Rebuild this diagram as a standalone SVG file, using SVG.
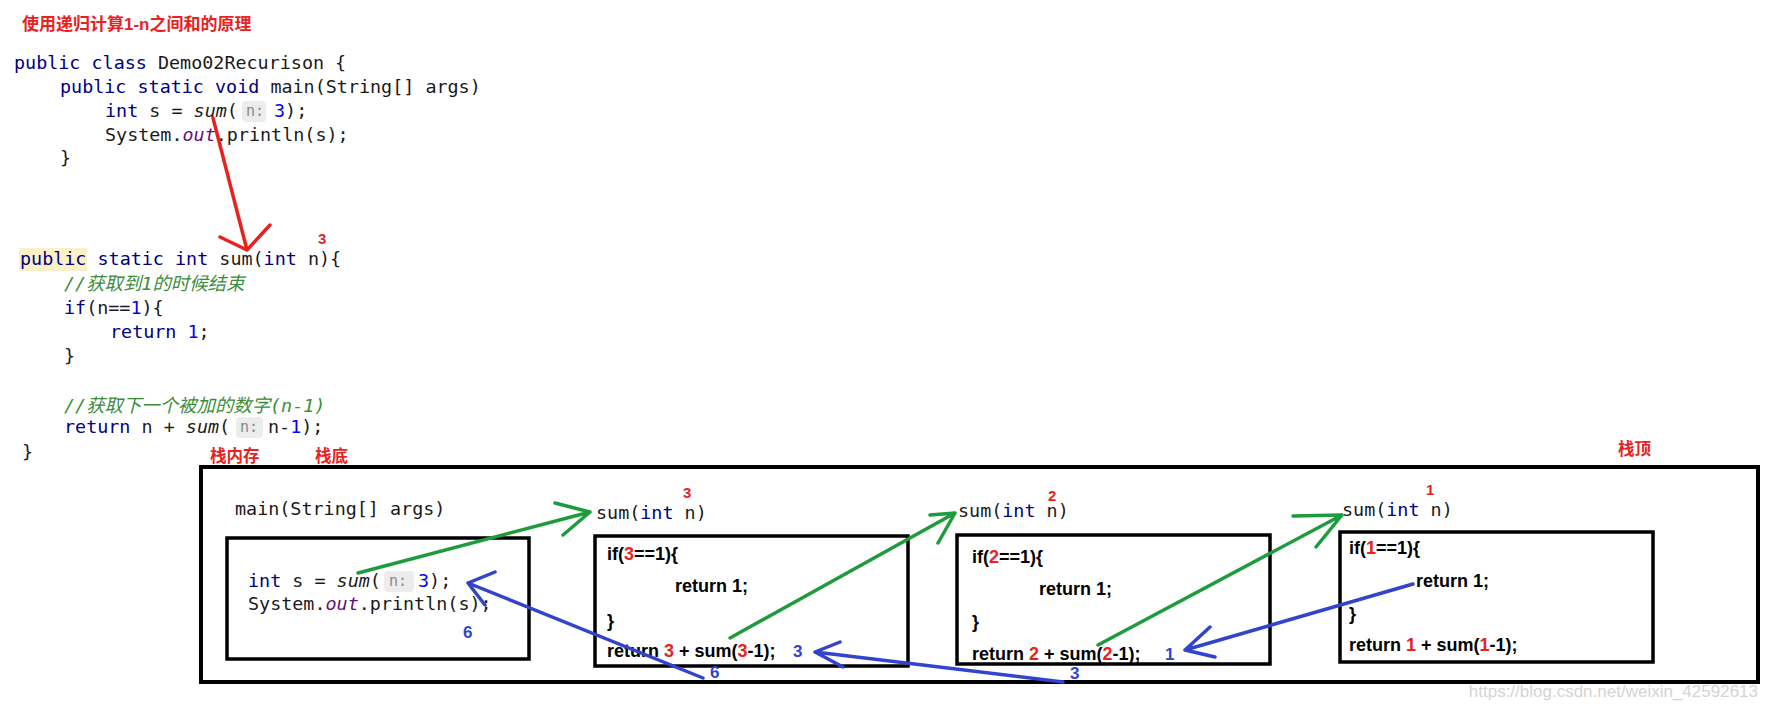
<svg xmlns="http://www.w3.org/2000/svg" width="1770" height="714" viewBox="0 0 1770 714">
<style>
.code{font-family:"DejaVu Sans Mono","Liberation Mono",monospace;font-size:18.4px;fill:#1a1a1a}
.kw{fill:#000080}
.num{fill:#0000ff}
.it{font-style:italic}
.field{font-style:italic;fill:#660e7a}
.cmt{font-family:"DejaVu Sans Mono","Noto Sans CJK SC",monospace;font-style:italic;fill:#3c8c3c;font-size:18.4px}
.hint{font-family:"DejaVu Sans Mono",monospace;font-size:15px;fill:#8a8a8a}
.pill{fill:#ececec}
.red{font-family:"Liberation Sans","Noto Sans CJK SC",sans-serif;font-weight:bold;fill:#e8231f}
.box{fill:none;stroke:#000;stroke-width:3.5}
.outer{fill:none;stroke:#000;stroke-width:4}
.bt{font-family:"Liberation Sans",Arial,sans-serif;font-weight:bold;font-size:18px;fill:#000}
.rn{fill:#e8231f}
.bl{font-family:"Liberation Sans",Arial,sans-serif;font-weight:bold;font-size:17px;fill:#3344cc}
.ar{fill:none;stroke-width:3.5;stroke-linecap:round;stroke-linejoin:round}
.g{stroke:#1e9b3c}
.b{stroke:#3344cc}
.r{stroke:#e8231f}
</style>
<rect width="1770" height="714" fill="#ffffff"/>

<g id="title">
<text x="22" y="30" class="red" font-size="17">使用递归计算1-n之间和的原理</text>
</g>

<g id="code-main">
<text class="code" y="69" x="14" xml:space="preserve"><tspan class="kw">public class</tspan> Demo02Recurison {</text>
<text class="code" y="93" x="60" xml:space="preserve"><tspan class="kw">public static void</tspan> main(String[] args)</text>
<text class="code" y="117" x="105" xml:space="preserve"><tspan class="kw">int</tspan> s = <tspan class="it">sum</tspan>(</text>
<rect class="pill" x="242" y="101" width="24" height="21" rx="4"/>
<text class="hint" x="246" y="116">n:</text>
<text class="code" y="117" x="274"><tspan class="num">3</tspan>);</text>
<text class="code" y="141" x="105">System.<tspan class="field">out</tspan>.println(s);</text>
<text class="code" y="164" x="60">}</text>
</g>

<g id="code-sum">
<rect x="19" y="248" width="68" height="23" fill="#fbf0c8"/>
<text class="code" y="265" x="20" xml:space="preserve"><tspan class="kw">public static int</tspan> sum(<tspan class="kw">int</tspan> n){</text>
<text class="red" x="318" y="244" font-size="15">3</text>
<text class="cmt" x="64" y="290">//获取到1的时候结束</text>
<text class="code" y="314" x="64"><tspan class="kw">if</tspan>(n==<tspan class="num">1</tspan>){</text>
<text class="code" y="338" x="110" xml:space="preserve"><tspan class="kw">return</tspan> <tspan class="num">1</tspan>;</text>
<text class="code" y="362" x="64">}</text>
<text class="cmt" x="64" y="412">//获取下一个被加的数字(n-1)</text>
<text class="code" y="433" x="64" xml:space="preserve"><tspan class="kw">return</tspan> n + <tspan class="it">sum</tspan>(</text>
<rect class="pill" x="236" y="417" width="27" height="21" rx="4"/>
<text class="hint" x="240" y="432">n:</text>
<text class="code" y="433" x="268">n-<tspan class="num">1</tspan>);</text>
<text class="code" y="458" x="22">}</text>
</g>

<g id="stack">
<text class="red" x="210" y="462" font-size="16.5">栈内存</text>
<text class="red" x="315" y="462" font-size="16.5">栈底</text>
<text class="red" x="1618" y="455" font-size="16.5">栈顶</text>
<rect class="outer" x="201" y="467" width="1557" height="215"/>
</g>

<g id="frame-main">
<text class="code" x="235" y="515">main(String[] args)</text>
<rect class="box" x="227" y="538" width="302" height="121"/>
<text class="code" y="587" x="248" xml:space="preserve"><tspan class="kw">int</tspan> s = <tspan class="it">sum</tspan>(</text>
<rect class="pill" x="384" y="571" width="30" height="21" rx="4"/>
<text class="hint" x="389" y="586">n:</text>
<text class="code" y="587" x="418"><tspan class="num">3</tspan>);</text>
<text class="code" y="610" x="248">System.<tspan class="field">out</tspan>.println(s);</text>
<text class="bl" x="463" y="638">6</text>
</g>

<g id="frame-sum3">
<text class="code" x="596" y="519" xml:space="preserve">sum(<tspan class="kw">int</tspan> n)</text>
<text class="red" x="683" y="498" font-size="15">3</text>
<rect class="box" x="595" y="536" width="313" height="130"/>
<text class="bt" x="607" y="560">if(<tspan class="rn">3</tspan>==1){</text>
<text class="bt" x="675" y="592">return 1;</text>
<text class="bt" x="607" y="627">}</text>
<text class="bt" x="607" y="657" xml:space="preserve">return <tspan class="rn">3</tspan> + sum(<tspan class="rn">3</tspan>-1);</text>
<text class="bl" x="793" y="657">3</text>
<text class="bl" x="710" y="678">6</text>
</g>

<g id="frame-sum2">
<text class="code" x="958" y="517" xml:space="preserve">sum(<tspan class="kw">int</tspan> n)</text>
<text class="red" x="1048" y="501" font-size="15">2</text>
<rect class="box" x="957" y="535" width="313" height="129"/>
<text class="bt" x="972" y="563">if(<tspan class="rn">2</tspan>==1){</text>
<text class="bt" x="1039" y="595">return 1;</text>
<text class="bt" x="972" y="628">}</text>
<text class="bt" x="972" y="660" xml:space="preserve">return <tspan class="rn">2</tspan> + sum(<tspan class="rn">2</tspan>-1);</text>
<text class="bl" x="1165" y="660">1</text>
<text class="bl" x="1070" y="679">3</text>
</g>

<g id="frame-sum1">
<text class="code" x="1342" y="516" xml:space="preserve">sum(<tspan class="kw">int</tspan> n)</text>
<text class="red" x="1426" y="495" font-size="15">1</text>
<rect class="box" x="1340" y="532" width="313" height="130"/>
<text class="bt" x="1349" y="554">if(<tspan class="rn">1</tspan>==1){</text>
<text class="bt" x="1416" y="587">return 1;</text>
<text class="bt" x="1349" y="620">}</text>
<text class="bt" x="1349" y="651" xml:space="preserve">return <tspan class="rn">1</tspan> + sum(<tspan class="rn">1</tspan>-1);</text>
</g>

<g id="connectors">
<path class="ar r" d="M213,118 L247,250 M220,237 L247,250 L270,225"/>
<path class="ar g" d="M358,573 L590,512 M555,503 L590,512 L563,535"/>
<path class="ar g" d="M730,638 L955,513 M930,515 L955,513 L938,543"/>
<path class="ar g" d="M1098,645 L1342,515 M1293,516 L1342,515 L1316,547"/>
<path class="ar b" d="M1413,584 L1185,650 M1210,627 L1185,650 L1215,657"/>
<path class="ar b" d="M1063,682 L815,652 M840,642 L815,652 L843,667"/>
<path class="ar b" d="M703,678 L468,583 M495,572 L468,583 L485,605"/>
</g>

<g id="watermark">
<text x="1758" y="697" text-anchor="end" font-family="Liberation Sans,Arial,sans-serif" font-size="17" fill="#d4d4d4">https://blog.csdn.net/weixin_42592613</text>
</g>
</svg>
